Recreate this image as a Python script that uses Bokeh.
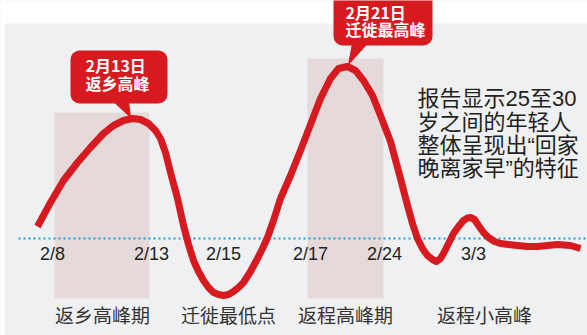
from bokeh.plotting import figure
from bokeh.models import Range1d, BoxAnnotation
from bokeh.core.properties import value
from bokeh.embed import file_html
from bokeh.resources import INLINE

# ---- data (chart units: x = horizontal position along timeline, y = level vs. baseline 0) ----
curve_x = [37, 50, 63, 77, 90, 103, 113, 123, 132, 140, 148, 155, 160, 165, 170, 177, 183, 188,
           193, 198, 203, 208, 213, 218, 223, 228, 233, 238, 243, 250, 257, 262, 267, 273, 280,
           290, 300, 310, 320, 330, 338, 347, 355, 363, 372, 380, 390, 400, 407, 412, 417, 422,
           427, 432, 436, 440, 443, 448, 453, 458, 463, 467, 470, 474, 478, 483, 488, 494, 500,
           508, 517, 527, 537, 547, 557, 570, 580]
curve_y = [12, 36, 58, 76, 91, 105, 113, 118, 120, 119, 115, 108, 100, 86, 66, 40, 13, -6,
           -22, -33, -42, -49, -54, -56, -57, -56, -53, -49, -44, -33, -20, -10, 1, 18, 40,
           63, 88, 114, 140, 160, 170, 172, 168, 158, 143, 123, 97, 60, 33, 15, 0, -10,
           -17, -21, -23, -20, -15, -5, 5, 12, 18, 20.5, 21, 19, 13, 6, 1, -3, -5,
           -6, -7, -8, -8, -7, -6, -7, -10]

tick_labels = ["2/8", "2/13", "2/15", "2/17", "2/24", "3/3"]
tick_pos = [52, 151, 223, 310, 384, 473]

period_labels = ["返乡高峰期", "迁徙最低点", "返程高峰期", "返程小高峰"]
period_pos = [102, 228, 345, 484]

band_left = [54, 307]
band_right = [149, 383]
band_top = [126, 180]
band_bottom = [-60, -60]

callout_lines = [["2月13日", "返乡高峰"], ["2月21日", "迁徙最高峰"]]
note_lines = ["报告显示25至30", "岁之间的年轻人", "整体呈现出“回家", "晚离家早”的特征"]

RED = "#d71920"
CJK = "Noto Sans CJK SC"

p = figure(width=587, height=335, x_range=Range1d(0, 587), y_range=Range1d(-97, 238),
           x_axis_type=None, y_axis_type=None, min_border=0, toolbar_location=None,
           output_backend="svg", background_fill_color="#eff0f2", border_fill_color="white")
p.grid.visible = False
p.outline_line_color = None

# white page area around the gray panel
p.add_layout(BoxAnnotation(bottom=215, fill_color="white", fill_alpha=1, line_color=None, level="underlay"))
p.add_layout(BoxAnnotation(right=4, fill_color="white", fill_alpha=1, line_color=None, level="underlay"))

# shaded periods
p.quad(left=band_left, right=band_right, top=band_top, bottom=band_bottom,
       fill_color="#e5d9da", line_color=None)

# baseline
p.line([18, 587], [0, 0], line_color="#1ba1e2", line_width=2.2, line_dash="2 3")

# curve
p.line(curve_x, curve_y, line_color=RED, line_width=7, line_join="round", line_cap="butt")

# callouts
box_specs = [(70, 167, 188, 135, 85, [174, 156]), (333, 432, 246, 193, 345, [227, 210])]
pointers = [([113, 128, 130], [137, 137, 121]), ([352, 367, 348], [195, 195, 174])]
for (l, r, t, b, tx, tys), (px, py), lines in zip(box_specs, pointers, callout_lines):
    p.patch(px, py, fill_color=RED, line_color=RED, line_width=1)
    p.add_layout(BoxAnnotation(left=l, right=r, top=t, bottom=b, fill_color=RED, fill_alpha=1,
                               line_color=None, border_radius=9))
    p.text(x=[tx] * len(lines), y=tys, text=lines, text_font=value(CJK), text_font_style="bold",
           text_font_size="16px", text_color="white", text_baseline="middle", text_align="left",
           level="overlay")

# tick labels
p.text(x=tick_pos, y=[-15] * len(tick_pos), text=tick_labels, text_font=value("Liberation Sans"),
       text_font_size="18px", text_color="#222222", text_align="center", text_baseline="middle")

# period labels
p.text(x=period_pos, y=[-76] * len(period_pos), text=period_labels, text_font=value(CJK),
       text_font_size="19px", text_color="#333333", text_align="center", text_baseline="middle")

# note (Latin digits and quotes from a Latin face, CJK falls back to Noto Sans CJK)
p.text(x=[417] * 4, y=[140, 116, 93, 70], text=note_lines,
       text_font=value("Liberation Sans, Noto Sans CJK SC"),
       text_font_size="22px", text_color="#231f20", text_align="left", text_baseline="middle")

open("out.html", "w").write(file_html(p, INLINE))
